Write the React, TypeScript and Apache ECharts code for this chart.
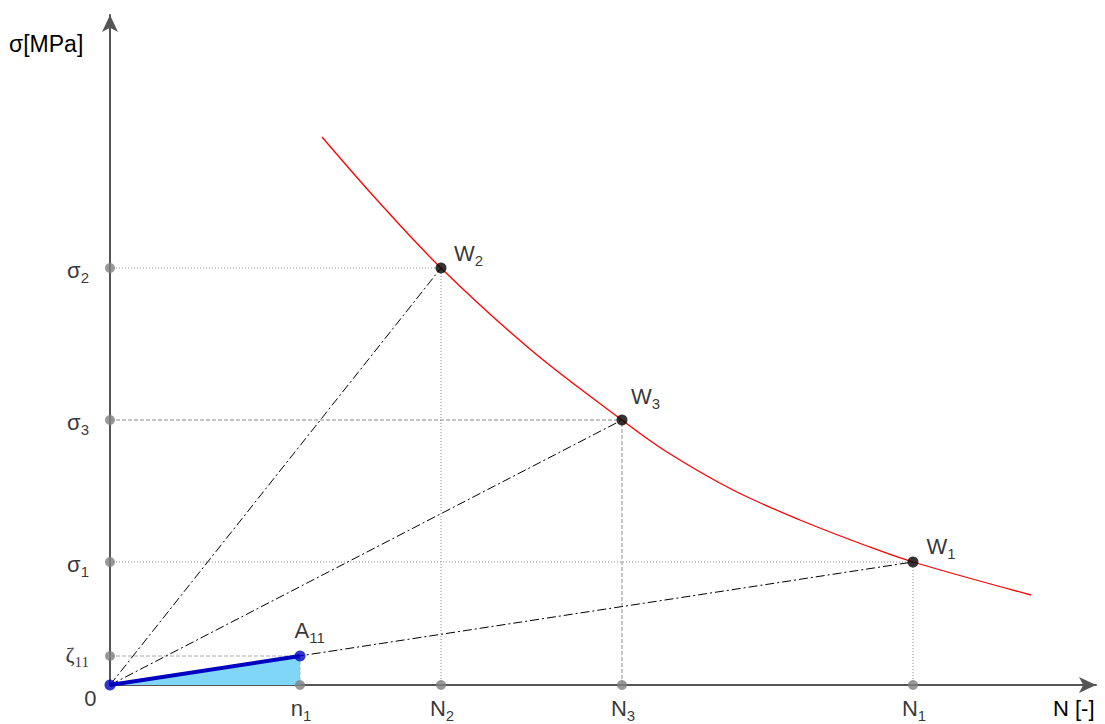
import React, { useEffect, useRef } from "react";
import * as echarts from "echarts";

// Wöhler-type curve (N units, sigma units)
const curveN = [2.12, 2.67, 3.31, 4.21, 5.12, 5.57, 6.23, 6.9, 7.57, 8.03, 9.21];
const curveSigma = [5.48, 4.85, 4.17, 3.35, 2.65, 2.33, 1.95, 1.65, 1.39, 1.23, 0.9];

// Points W on the curve
const wNames = ["2", "3", "1"];
const wN = [3.31, 5.12, 8.03];
const wSigma = [4.17, 2.65, 1.23];
const wGuide = ["dotted", "dashed", "dotted"];

// Point A11
const n1 = 1.9;
const zeta11 = 0.29;

const xMax = 9.86;
const yMax = 6.7;

const FONT = "Liberation Sans";
const SERIF = "Liberation Serif";

const rich = {
  m: { fontSize: 22, fontFamily: FONT, color: "#000", lineHeight: 30, verticalAlign: "middle" },
  s: { fontSize: 15, fontFamily: FONT, color: "#000", lineHeight: 15, verticalAlign: "bottom" },
  z: { fontSize: 22, fontFamily: SERIF, color: "#000", lineHeight: 30, verticalAlign: "middle" },
  zs: { fontSize: 15, fontFamily: SERIF, color: "#000", lineHeight: 17, verticalAlign: "bottom" },
};

const wLabelOffsets = [
  [7.5, -15],
  [3.5, -24],
  [8, -16],
];

export default function App() {
  const ref = useRef<HTMLDivElement>(null);
  useEffect(() => {
    document.body.style.margin = "0";
    const chart = echarts.init(ref.current!, null, { renderer: "svg" });
    const series: any[] = [];

    // dash-dot rays from origin and guide lines
    wN.forEach((n, i) => {
      series.push({
        type: "line",
        data: [
          [0, 0],
          [n, wSigma[i]],
        ],
        symbol: "none",
        lineStyle: { color: "#000", width: 1, type: [9, 3, 2, 3] },
        z: 3,
      });
      const t = wGuide[i] === "dotted" ? [1, 2] : [4, 2];
      series.push({
        type: "line",
        data: [
          [0, wSigma[i]],
          [n, wSigma[i]],
        ],
        symbol: "none",
        lineStyle: { color: "#8a8a8a", width: 1, type: t },
        z: 2,
      });
      series.push({
        type: "line",
        data: [
          [n, 0],
          [n, wSigma[i]],
        ],
        symbol: "none",
        lineStyle: { color: "#8a8a8a", width: 1, type: t },
        z: 2,
      });
    });

    // zeta11 guide
    series.push({
      type: "line",
      data: [
        [0, zeta11],
        [n1, zeta11],
      ],
      symbol: "none",
      lineStyle: { color: "#aaa", width: 1, type: [4, 2] },
      z: 2,
    });

    // area triangle
    series.push({
      type: "line",
      data: [
        [0, 0],
        [n1, zeta11],
      ],
      symbol: "none",
      areaStyle: { color: "#80d6f7", opacity: 1, origin: 0 },
      lineStyle: { color: "#0000c0", width: 4 },
      z: 4,
    });
    series.push({
      type: "line",
      data: [
        [n1, 0],
        [n1, zeta11],
      ],
      symbol: "none",
      lineStyle: { color: "#b5b5b5", width: 1, type: [3, 2] },
      z: 5,
    });

    // red curve
    series.push({
      type: "line",
      data: curveN.map((n, i) => [n, curveSigma[i]]),
      smooth: 0.35,
      symbol: "none",
      lineStyle: { color: "#ff0000", width: 1.3 },
      z: 6,
    });

    // W points
    series.push({
      type: "scatter",
      symbolSize: 11,
      itemStyle: { color: "#000" },
      z: 8,
      data: wN.map((n, i) => ({
        value: [n, wSigma[i]],
        label: {
          show: true,
          position: "right",
          distance: 0,
          offset: wLabelOffsets[i],
          formatter: `{m|W}{s|${wNames[i]}}`,
          rich,
        },
      })),
    });

    // gray dots on x axis
    const xTicks = [
      { v: n1, m: "n", s: "1" },
      ...wN.map((n, i) => ({ v: n, m: "N", s: wNames[i] })),
    ];
    series.push({
      type: "scatter",
      symbolSize: 10,
      itemStyle: { color: "#808080" },
      z: 7,
      data: xTicks.map((t) => ({
        value: [t.v, 0],
        label: {
          show: true,
          position: "bottom",
          distance: 3,
          offset: [1, 0],
          formatter: `{m|${t.m}}{s|${t.s}}`,
          rich,
        },
      })),
    });

    // gray dots on y axis
    const yTicks = [
      ...wSigma.map((s, i) => ({ v: s, f: `{m|σ}{s|${wNames[i]}}`, dy: 2 })),
      { v: zeta11, f: `{z|ζ}{zs|11}`, dy: -2 },
    ];
    series.push({
      type: "scatter",
      symbolSize: 10,
      itemStyle: { color: "#808080" },
      z: 7,
      data: yTicks.map((t) => ({
        value: [0, t.v],
        label: {
          show: true,
          position: "left",
          distance: 16,
          offset: [0, t.dy],
          formatter: t.f,
          rich,
        },
      })),
    });

    // blue points: origin and A11
    series.push({
      type: "scatter",
      symbolSize: 11,
      itemStyle: { color: "#0000c0" },
      z: 9,
      data: [
        {
          value: [0, 0],
          label: {
            show: true,
            position: "left",
            distance: 8,
            offset: [0, 13],
            formatter: "{m|0}",
            rich,
          },
        },
        {
          value: [n1, zeta11],
          label: {
            show: true,
            position: "right",
            distance: 0,
            offset: [-11, -26],
            formatter: "{m|A}{s|11}",
            rich,
          },
        },
      ],
    });

    chart.setOption({
      animation: false,
      backgroundColor: "#fff",
      grid: { left: 110, top: 15, width: 986, height: 670 },
      xAxis: {
        type: "value",
        min: 0,
        max: xMax,
        axisLine: {
          show: true,
          onZero: false,
          symbol: ["none", "arrow"],
          symbolSize: [12, 17],
          lineStyle: { color: "#555", width: 2 },
        },
        axisTick: { show: false },
        axisLabel: { show: false },
        splitLine: { show: false },
      },
      yAxis: {
        type: "value",
        min: 0,
        max: yMax,
        axisLine: {
          show: true,
          onZero: false,
          symbol: ["none", "arrow"],
          symbolSize: [12, 17],
          lineStyle: { color: "#555", width: 2 },
        },
        axisTick: { show: false },
        axisLabel: { show: false },
        splitLine: { show: false },
      },
      graphic: [
        {
          type: "text",
          left: 9,
          top: 32,
          style: { text: "σ[MPa]", fontSize: 23, fontFamily: FONT, fill: "#000" },
        },
        {
          type: "text",
          left: 1053,
          top: 697,
          style: { text: "N [-]", fontSize: 22, fontFamily: FONT, fill: "#000" },
        },
      ],
      series,
    });
    return () => chart.dispose();
  }, []);
  return (
    <div
      ref={ref}
      style={{ position: "fixed", left: 0, top: 0, width: 1105, height: 724 }}
    />
  );
}
